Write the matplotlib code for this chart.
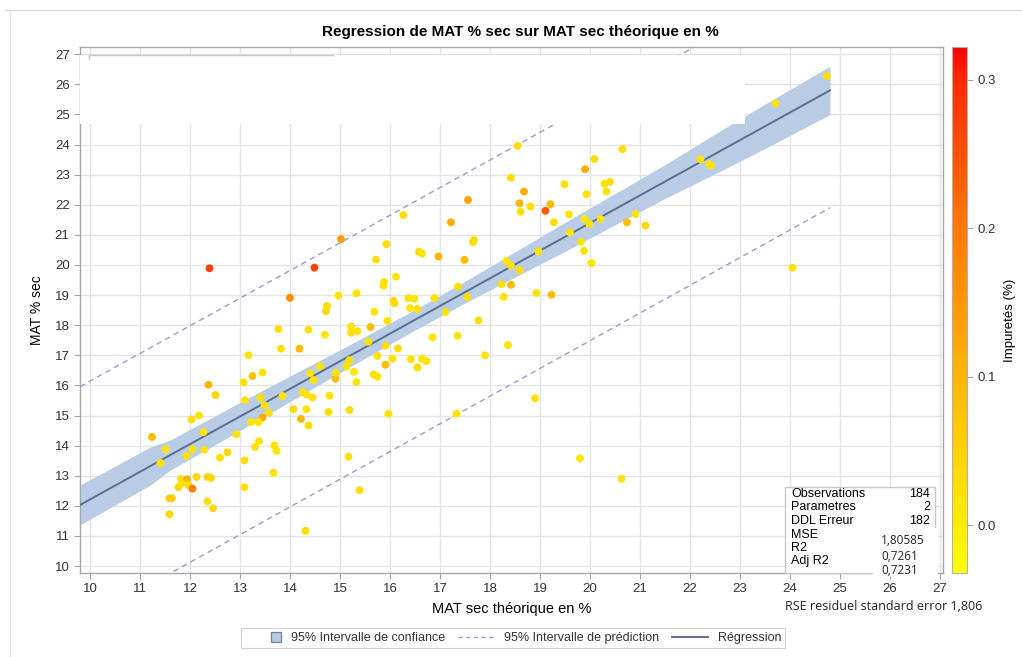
import numpy as np
import matplotlib
matplotlib.use("Agg")
import matplotlib.pyplot as plt
from matplotlib.colors import LinearSegmentedColormap
from matplotlib.patches import Rectangle, Patch
from matplotlib.lines import Line2D
from matplotlib.legend_handler import HandlerPatch

plt.rcParams['font.family'] = ['Liberation Sans', 'DejaVu Sans']

# ---------------- data ----------------
x_theo = [14.00, 14.97, 15.33, 14.74, 14.72, 15.69, 13.77, 14.37, 14.70, 15.22,
          15.22, 15.35, 15.61, 13.82, 14.19, 13.17, 15.57, 15.75, 13.45, 13.25,
          13.07, 12.37, 12.51, 13.10, 13.41, 13.49, 13.58, 13.45, 13.37, 13.22,
          13.85, 14.07, 14.33, 14.22, 14.37, 14.25, 14.33, 14.45, 14.40, 14.47,
          14.60, 14.79, 14.77, 14.91, 14.92, 15.13, 15.28, 15.33, 15.19, 15.19,
          15.17, 15.39, 15.67, 14.31, 11.24, 11.51, 11.41, 12.03, 12.18, 12.27,
          12.29, 12.05, 11.93, 12.60, 12.75, 12.93, 13.09, 13.30, 13.38, 13.69,
          13.73, 13.67, 13.09, 11.82, 11.94, 11.77, 11.83, 11.97, 12.05, 12.13,
          12.35, 12.42, 11.59, 11.64, 12.35, 12.46, 11.59, 15.75,
          12.39, 14.49, 15.02, 15.72,
          18.55, 18.42, 18.68, 18.59, 18.81, 18.61, 19.11, 19.21, 19.49, 19.90,
          20.09, 20.65, 20.29, 20.40, 20.33, 19.93, 19.58, 19.28, 19.89, 19.99,
          20.21, 20.74, 20.91, 21.11, 19.60, 19.82, 19.88, 20.03, 18.97, 18.33,
          18.42, 18.59, 18.23, 18.42, 17.56, 17.22, 16.27, 15.93, 16.58, 16.64,
          16.97, 17.49, 17.68, 17.66, 16.12, 15.88, 15.87, 17.36,
          18.93, 19.23, 18.27, 17.55, 16.89, 16.37, 16.49, 16.07, 16.09, 16.40,
          16.55, 17.11, 15.95, 17.77, 16.85, 17.35, 18.36, 17.90, 15.91, 16.16,
          16.05, 16.42, 16.64, 16.73, 16.55, 15.91, 15.97, 17.33, 18.90, 19.80,
          20.63,
          24.74, 23.71, 22.21, 22.38, 22.42, 24.05]

y_mat = [18.91, 18.98, 19.06, 18.64, 18.47, 18.45, 17.87, 17.85, 17.68, 17.96,
         17.75, 17.80, 17.94, 17.22, 17.22, 17.00, 17.45, 16.98, 16.43, 16.31,
         16.10, 16.02, 15.68, 15.51, 15.59, 15.34, 15.09, 14.93, 14.78, 14.79,
         15.65, 15.21, 15.21, 14.89, 14.67, 15.78, 15.70, 15.60, 16.41, 16.18,
         16.63, 15.66, 15.12, 16.22, 16.42, 16.63, 16.45, 16.11, 15.18, 16.84,
         13.63, 12.52, 16.37, 11.17, 14.29, 13.88, 13.42, 14.87, 15.00, 14.45,
         13.86, 13.88, 13.66, 13.60, 13.78, 14.38, 13.51, 13.95, 14.15, 14.01,
         13.83, 13.10, 12.62, 12.89, 12.88, 12.62, 12.75, 12.69, 12.57, 12.96,
         12.96, 12.93, 12.25, 12.25, 12.15, 11.92, 11.72, 16.29,
         19.89, 19.91, 20.86, 20.18,
         23.96, 22.90, 22.44, 22.05, 21.94, 21.77, 21.80, 22.02, 22.68, 23.18,
         23.52, 23.85, 22.70, 22.76, 22.44, 22.35, 21.68, 21.42, 21.53, 21.36,
         21.53, 21.42, 21.69, 21.31, 21.08, 20.77, 20.47, 20.06, 20.45, 20.13,
         19.98, 19.83, 19.36, 19.34, 22.16, 21.42, 21.66, 20.69, 20.44, 20.38,
         20.28, 20.17, 20.83, 20.76, 19.61, 19.43, 19.31, 19.28,
         19.07, 19.01, 18.94, 18.94, 18.90, 18.90, 18.88, 18.81, 18.73, 18.57,
         18.54, 18.44, 18.14, 18.16, 17.60, 17.65, 17.34, 17.00, 17.32, 17.23,
         16.89, 16.87, 16.89, 16.81, 16.60, 16.69, 15.06, 15.06, 15.57, 13.58,
         12.90,
         26.28, 25.37, 23.51, 23.35, 23.30, 19.91]

impurete = [0.17, 0.02, 0.02, 0.03, 0.03, 0.02, 0.03, 0.02, 0.02, 0.02,
            0.02, 0.02, 0.09, 0.03, 0.09, 0.02, 0.02, 0.02, 0.02, 0.08,
            0.03, 0.10, 0.04, 0.02, 0.02, 0.02, 0.03, 0.12, 0.02, 0.02,
            0.02, 0.03, 0.02, 0.10, 0.03, 0.02, 0.02, 0.02, 0.02, 0.02,
            0.02, 0.02, 0.03, 0.09, 0.02, 0.02, 0.02, 0.02, 0.03, 0.02,
            0.02, 0.03, 0.02, 0.03, 0.09, 0.02, 0.02, 0.03, 0.02, 0.02,
            0.02, 0.02, 0.02, 0.03, 0.04, 0.02, 0.03, 0.02, 0.02, 0.02,
            0.02, 0.02, 0.03, 0.03, 0.10, 0.04, 0.02, 0.03, 0.19, 0.04,
            0.05, 0.04, 0.06, 0.06, 0.03, 0.04, 0.04, 0.02,
            0.27, 0.27, 0.14, 0.03,
            0.03, 0.03, 0.12, 0.10, 0.03, 0.03, 0.24, 0.09, 0.03, 0.12,
            0.03, 0.03, 0.02, 0.03, 0.02, 0.02, 0.02, 0.03, 0.02, 0.02,
            0.02, 0.09, 0.02, 0.03, 0.02, 0.02, 0.02, 0.02, 0.02, 0.02,
            0.02, 0.03, 0.02, 0.09, 0.13, 0.12, 0.03, 0.03, 0.03, 0.02,
            0.10, 0.09, 0.03, 0.03, 0.02, 0.02, 0.02, 0.03,
            0.02, 0.09, 0.02, 0.03, 0.02, 0.02, 0.02, 0.03, 0.03, 0.02,
            0.02, 0.02, 0.02, 0.03, 0.02, 0.02, 0.02, 0.02, 0.02, 0.03,
            0.02, 0.02, 0.02, 0.02, 0.03, 0.09, 0.02, 0.02, 0.02, 0.02,
            0.02,
            0.02, 0.02, 0.02, 0.02, 0.02, 0.02]

# regression line, confidence band and prediction limits
reg_x = [9.8, 24.8]
reg_y = [12.03, 25.80]
ci_x = [9.8, 11.2, 11.6, 12.5, 13.5, 14.5, 15.5, 16.5, 17.5, 18.5, 19.5,
        20.5, 21.5, 22.5, 23.5, 24.8]
ci_half = [0.66, 0.63, 0.50, 0.48, 0.45, 0.40, 0.36, 0.34, 0.36, 0.42, 0.48,
           0.52, 0.56, 0.66, 0.74, 0.80]
pred_x = [9.8, 24.8]
pred_lo = [8.10, 21.90]
pred_hi = [15.96, 29.73]

xticks = list(range(10, 28))
yticks = list(range(10, 28))
cbar_ticks = [0.0, 0.1, 0.2, 0.3]

stats_labels = ["Observations", "Parametres", "DDL Erreur", "MSE", "R2", "Adj R2"]
stats_values_top = ["184", "2", "182"]
stats_values_low = ["1,80585", "0,7261", "0,7231"]
rse_text = "RSE residuel standard error 1,806"

# ---------------- figure ----------------
W, H = 1022, 657
fig = plt.figure(figsize=(W / 100, H / 100), dpi=100)
fig.patch.set_facecolor('white')

def fx(px):
    return px / W

def fy(py):
    return 1 - py / H

ax = fig.add_axes([fx(80), fy(573), fx(943) - fx(80), fy(47) - fy(573)])
ax.set_xlim(9.8, 27.06)
ax.set_ylim(9.77, 27.24)

grid_c = '#e4e4e4'
ax.set_xticks(xticks)
ax.set_yticks(yticks)
ax.grid(True, color=grid_c, lw=1.0, zorder=0)
ax.set_axisbelow(True)
for s in ax.spines.values():
    s.set_color('#a6a6a6')
    s.set_linewidth(1.0)
ax.tick_params(axis='both', colors='#a6a6a6', labelcolor='#333333',
               labelsize=9.5, length=4, width=0.8)

cmap = LinearSegmentedColormap.from_list(
    'imp', [(0.0, '#ffff00'), (0.09, '#ffee00'), (0.38, '#ffb400'),
            (0.66, '#ff7800'), (0.94, '#ff2a00'), (1.0, '#ff0000')])
vmin, vmax = -0.032, 0.322

ci_x_a = np.array(ci_x)
ci_center = np.interp(ci_x_a, reg_x, reg_y)
ci_h = np.array(ci_half)
ax.fill_between(ci_x_a, ci_center - ci_h, ci_center + ci_h,
                color='#b8cce6', lw=0, zorder=2)
ax.plot(pred_x, pred_lo, ls=(0, (4, 3)), color='#9a9ccc', lw=1.0, zorder=3)
ax.plot(pred_x, pred_hi, ls=(0, (4, 3)), color='#9a9ccc', lw=1.0, zorder=3)
ax.plot(reg_x, reg_y, color='#5b6f8f', lw=1.4, zorder=3)

sc = ax.scatter(x_theo, y_mat, c=impurete, cmap=cmap, vmin=vmin, vmax=vmax,
                s=32, edgecolors='none', zorder=4)

# white masking rectangle (overlay in the original image)
ax.add_patch(Rectangle((9.8, 24.67), 23.1 - 9.8, 26.97 - 24.67,
                       facecolor='white', edgecolor='none', zorder=6))
ax.plot([9.97, 14.85], [26.97, 26.97], color='#c8c8c8', lw=1.0, zorder=7)
ax.plot([9.97, 9.97], [26.97, 26.84], color='#c8c8c8', lw=1.0, zorder=7)

ax.set_xlabel("MAT sec théorique en %", fontsize=10.5, labelpad=5)
ax.set_ylabel("MAT % sec", fontsize=10, labelpad=8)
fig.suptitle("Regression de MAT % sec sur MAT sec théorique en %",
             x=fx(520), y=fy(32), fontsize=11, fontweight='bold', va='center')

# colorbar
cax = fig.add_axes([fx(952), fy(573), fx(967) - fx(952), fy(47) - fy(573)])
cb = fig.colorbar(sc, cax=cax, ticks=cbar_ticks)
cb.outline.set_edgecolor('#b0b0b0')
cb.ax.tick_params(colors='#a6a6a6', labelcolor='#333333', labelsize=9.5,
                  length=4, width=0.8)
cb.ax.set_yticklabels([f"{t:.1f}" for t in cbar_ticks])
fig.text(fx(1010), fy(320), "Impuretés (%)", rotation=90, ha='center',
         va='center', fontsize=9.5)

# statistics box
fig.patches.append(Rectangle((fx(785), fy(573)), fx(935) - fx(785),
                             fy(487) - fy(573), transform=fig.transFigure,
                             facecolor='white', edgecolor='#c8c8c8', lw=1.0,
                             zorder=5))
rows_py = [494, 507.5, 521, 534.5, 548, 561]
for lab, py in zip(stats_labels, rows_py):
    fig.text(fx(791), fy(py), lab, fontsize=9, va='center', ha='left', zorder=6)
for val, py in zip(stats_values_top, rows_py[:3]):
    fig.text(fx(930), fy(py), val, fontsize=9, va='center', ha='right', zorder=6)
fig.patches.append(Rectangle((fx(873), fy(577)), fx(938) - fx(873),
                             fy(528) - fy(577), transform=fig.transFigure,
                             facecolor='white', edgecolor='none', zorder=7))
for val, py in zip(stats_values_low, [540, 556, 570]):
    fig.text(fx(881), fy(py), val, fontsize=8.5, va='center', ha='left',
             family='Open Sans', color='#222222', zorder=8)
fig.text(fx(785), fy(606), rse_text, fontsize=9, va='center', ha='left',
         family='Open Sans', color='#222222')


# legend
class SquareHandler(HandlerPatch):
    def create_artists(self, legend, orig_handle, xdescent, ydescent,
                       width, height, fontsize, trans):
        s = height * 1.05
        p = Rectangle((width - xdescent - s, -ydescent + (height - s) / 2),
                      s, s, facecolor=orig_handle.get_facecolor(),
                      edgecolor=orig_handle.get_edgecolor(),
                      lw=orig_handle.get_linewidth(), transform=trans)
        return [p]


sq = Patch(facecolor='#b8cce6', edgecolor='#6f7f99', lw=0.9)
handles = [sq,
           Line2D([], [], ls=(0, (3, 2.5)), color='#9a9ccc', lw=1.0),
           Line2D([], [], color='#5b6f8f', lw=1.4)]
labels = ["95% Intervalle de confiance", "95% Intervalle de prédiction",
          "Régression"]
leg = fig.legend(handles, labels, loc='center', ncol=3,
                 bbox_to_anchor=(fx(513), fy(638)), fontsize=9,
                 frameon=True, fancybox=False, handlelength=2.9,
                 columnspacing=1.0, handletextpad=0.8, borderpad=0.3,
                 borderaxespad=0.0, handleheight=0.8,
                 handler_map={Patch: SquareHandler()})
leg.get_frame().set_edgecolor('#c8c8c8')
leg.get_frame().set_linewidth(0.8)
for t in leg.get_texts():
    t.set_color('#333333')

# light frame lines of the original screenshot
fig.add_artist(Line2D([fx(5), fx(1022)], [fy(10), fy(10)], color='#dddddd',
                      lw=1.0, transform=fig.transFigure))
fig.add_artist(Line2D([fx(10), fx(10)], [fy(10), fy(657)], color='#e6e6e6',
                      lw=1.0, transform=fig.transFigure))

fig.savefig("out.png", dpi=100)
